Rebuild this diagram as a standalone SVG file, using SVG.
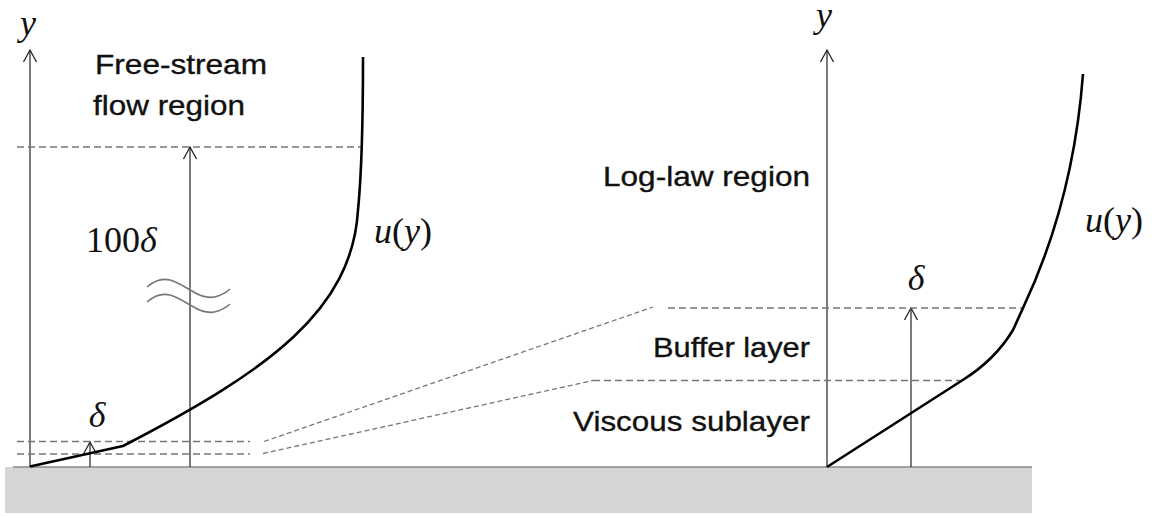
<svg xmlns="http://www.w3.org/2000/svg" width="1160" height="518" viewBox="0 0 1160 518">
<style>
.axis{stroke:#222;stroke-width:1.2;fill:none}
.curve{stroke:#000;stroke-width:2.6;fill:none;stroke-linejoin:round}
.dash{stroke:#777;stroke-width:1.6;fill:none;stroke-dasharray:7,4}
.dashf{stroke:#777;stroke-width:1.3;fill:none;stroke-dasharray:5,3}
.wave{stroke:#777;stroke-width:1.6;fill:none}
.lbl{font-family:"Liberation Sans",Arial,sans-serif;font-size:28px;fill:#111;stroke:#111;stroke-width:0.35}
.math{font-family:"Liberation Serif","Times New Roman",serif;font-size:36px;fill:#111}
.it{font-style:italic}
</style>
<defs>
<marker id="open" viewBox="-14 -8 16 16" refX="0" refY="0" markerWidth="16" markerHeight="16" markerUnits="userSpaceOnUse" orient="auto" overflow="visible">
<path d="M-12,-6.5 L0,0 L-12,6.5" fill="none" stroke="#222" stroke-width="1.3"/>
</marker>
</defs>
<rect width="1160" height="518" fill="#fff"/>
<g id="ground">
<rect x="5" y="467" width="1027" height="46" fill="#d5d5d5"/>
<line x1="13" y1="467" x2="1032" y2="467" stroke="#888" stroke-width="1.6"/>
</g>
<g id="connectors">
<line class="axis" x1="30" y1="467" x2="30" y2="50" marker-end="url(#open)"/>
<line class="axis" x1="190" y1="467" x2="190" y2="147" marker-end="url(#open)"/>
<line class="axis" x1="90" y1="467" x2="90" y2="442" marker-end="url(#open)"/>
<line class="axis" x1="827" y1="467" x2="827" y2="50" marker-end="url(#open)"/>
<line class="axis" x1="911" y1="467" x2="911" y2="308" marker-end="url(#open)"/>
<line class="dash" x1="17" y1="147" x2="361" y2="147"/>
<line class="dash" x1="17" y1="441.5" x2="250" y2="441.5"/>
<line class="dash" x1="17" y1="454" x2="250" y2="454"/>
<line class="dashf" x1="264" y1="441.5" x2="653" y2="307"/>
<line class="dashf" x1="263" y1="453.5" x2="593" y2="380.5"/>
<line class="dash" x1="668" y1="308" x2="1023" y2="308"/>
<line class="dash" x1="593" y1="380.5" x2="962" y2="380.5"/>
</g>
<g id="profile-left">
<path class="curve" d="M363,57 C363,110 362,170 358,210 C352,310 270,370 123,446 L30,466.5"/>
</g>
<g id="profile-right">
<path class="curve" d="M827,467 L962,380.5 Q995,360 1013,330 L1023,308 C1048,255 1075,180 1083,74"/>
</g>
<g id="break-symbol">
<path class="wave" d="M147,287 C155,280 162,278 170,280 C180,283 186,288 192,291 C200,296 210,299 218,296 C223,294 227,292 230,289"/>
<path class="wave" d="M147,302 C155,295 162,293 170,295 C180,298 186,303 192,306 C200,311 210,314 218,311 C223,309 227,307 230,304"/>
</g>
<g id="labels-left">
<text class="math it" x="28" y="35" text-anchor="middle">y</text>
<text class="lbl" x="95" y="74" font-size="27" textLength="172" lengthAdjust="spacingAndGlyphs">Free-stream</text>
<text class="lbl" x="93" y="115" font-size="27" textLength="152" lengthAdjust="spacingAndGlyphs">flow region</text>
<text class="math" x="86" y="252">100<tspan class="it">δ</tspan></text>
<text class="math it" x="97" y="427" text-anchor="middle">δ</text>
<text class="math" x="374" y="243"><tspan class="it">u</tspan>(<tspan class="it">y</tspan>)</text>
</g>
<g id="labels-right">
<text class="math it" x="824" y="27" text-anchor="middle">y</text>
<text class="lbl" x="603" y="186" textLength="207" lengthAdjust="spacingAndGlyphs">Log-law region</text>
<text class="lbl" x="653" y="357" textLength="157" lengthAdjust="spacingAndGlyphs">Buffer layer</text>
<text class="lbl" x="573" y="431" textLength="237" lengthAdjust="spacingAndGlyphs">Viscous sublayer</text>
<text class="math it" x="916" y="290" text-anchor="middle">δ</text>
<text class="math" x="1085" y="232"><tspan class="it">u</tspan>(<tspan class="it">y</tspan>)</text>
</g>
</svg>
